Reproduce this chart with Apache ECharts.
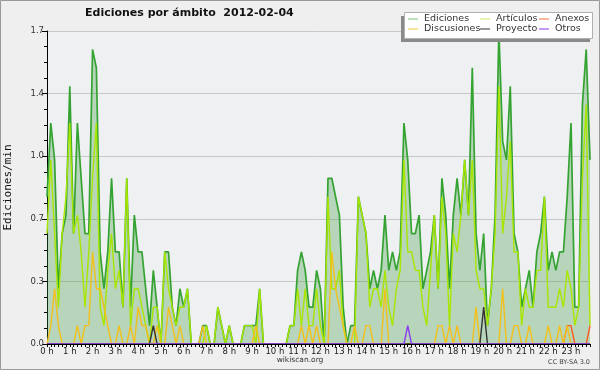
<!DOCTYPE html>
<html><head><meta charset="utf-8">
<script src="https://cdn.jsdelivr.net/npm/echarts@6/dist/echarts.min.js"></script>
<style>html,body{margin:0;padding:0;background:#efefef}#c{width:600px;height:370px}</style>
</head><body><div id="c"></div>
<script>
// 10-minute bins, values in edits per minute
const hourLabels = ['0 h','1 h','2 h','3 h','4 h','5 h','6 h','7 h','8 h','9 h','10 h','11 h','12 h','13 h','14 h','15 h','16 h','17 h','18 h','19 h','20 h','21 h','22 h','23 h'];
const seriesNames = ['Ediciones','Artículos','Anexos','Discusiones','Proyecto','Otros'];
const ediciones = [
0.8,1.2,1.0,0.3,0.6,0.7,1.4,0.6,1.2,0.9,
0.6,0.6,1.6,1.5,0.5,0.3,0.5,0.9,0.5,0.5,
0.2,0.9,0.2,0.7,0.5,0.5,0.3,0.1,0.4,0.2,
0,0.5,0.5,0.2,0.1,0.3,0.2,0.3,0,0,
0,0.1,0.1,0,0,0.2,0.1,0,0.1,0,
0,0,0.1,0.1,0.1,0.1,0.3,0,0,0,
0,0,0,0,0.1,0.1,0.4,0.5,0.4,0.2,
0.2,0.4,0.3,0,0.9,0.9,0.8,0.7,0.2,0,
0.1,0.1,0.8,0.7,0.6,0.3,0.4,0.3,0.4,0.7,
0.4,0.5,0.4,0.5,1.2,1.0,0.6,0.6,0.7,0.3,
0.4,0.5,0.7,0.3,0.9,0.7,0.3,0.7,0.9,0.7,
1.0,0.7,1.5,0.6,0.4,0.6,0.1,0.3,0.7,1.7,
1.1,1.0,1.4,0.6,0.5,0.2,0.3,0.4,0.2,0.5,
0.6,0.8,0.4,0.5,0.4,0.5,0.5,0.8,1.2,0.2,
0.2,1.3,1.6,1.0];
const articulos = [
0.6,1.0,0.6,0.2,0.6,0.8,1.2,0.6,0.7,0.5,
0.2,0.5,0.9,1.2,0.2,0.1,0.4,0.6,0.3,0.4,
0.2,0.9,0.1,0.3,0.3,0.2,0.1,0,0.2,0.2,
0,0.5,0.3,0.2,0.1,0.2,0.2,0.3,0,0,
0,0,0.1,0,0,0.2,0.1,0,0.1,0,
0,0,0.1,0.1,0.1,0,0.3,0,0,0,
0,0,0,0,0.1,0.1,0.3,0.1,0.3,0.1,
0.1,0.3,0.1,0,0.8,0.3,0.3,0.4,0.1,0,
0,0,0.8,0.7,0.6,0.2,0.3,0.3,0.2,0.4,
0.2,0.1,0.3,0.4,1.0,0.5,0.5,0.4,0.4,0.2,
0.1,0.4,0.7,0.3,0.8,0.6,0.1,0.6,0.5,0.7,
1.0,0.7,1.0,0.4,0.3,0.3,0.1,0.3,0.6,1.4,
0.6,0.8,1.1,0.5,0.5,0.1,0.3,0.2,0.2,0.4,
0.4,0.8,0.2,0.2,0.2,0.3,0.2,0.4,0.3,0.1,
0.2,0.9,1.3,0.1];
const anexos = [
0,0,0,0,0,0,0,0,0,0, 0,0,0,0,0,0,0,0,0,0, 0,0,0,0,0,0,0,0,0,0,
0,0,0,0,0,0,0,0,0,0, 0,0,0,0,0,0,0,0,0,0, 0,0,0,0,0,0,0,0,0,0,
0,0,0,0,0,0,0,0,0,0, 0,0,0,0,0,0,0,0,0,0, 0,0,0,0,0,0,0,0,0,0,
0,0,0,0,0,0,0,0,0,0, 0,0,0,0,0,0,0,0,0,0, 0,0,0,0,0,0,0,0,0,0,
0,0,0,0,0,0,0,0,0,0, 0,0,0,0,0,0,0,0.1,0.1,0, 0,0,0,0.1];
const discusiones = [
0,0.1,0.3,0.1,0,0,0,0,0.1,0,
0.1,0.1,0.5,0.3,0.3,0.2,0.1,0,0,0.1,
0,0,0.1,0,0.2,0.1,0.1,0,0,0.1,
0,0,0.2,0.1,0,0.1,0,0,0,0,
0,0.1,0,0,0,0,0,0,0,0,
0,0,0,0,0,0.1,0,0,0,0,
0,0,0,0,0,0,0,0.1,0,0.1,
0,0.1,0,0,0,0.5,0.3,0.2,0.1,0,
0,0.1,0,0,0.1,0.1,0,0,0,0.3,
0,0,0,0,0,0,0,0,0,0,
0,0,0,0.1,0.1,0,0.1,0,0.1,0,
0,0,0,0.2,0,0,0,0,0,0,
0.3,0,0,0.1,0.1,0,0,0.1,0,0,
0,0,0.1,0,0,0.1,0,0.1,0,0,
0,0,0,0];
const proyecto = [
0,0,0,0,0,0,0,0,0,0, 0,0,0,0,0,0,0,0,0,0, 0,0,0,0,0,0,0,0,0.1,0,
0,0,0,0,0,0,0,0,0,0, 0,0,0,0,0,0,0,0,0,0, 0,0,0,0,0,0,0,0,0,0,
0,0,0,0,0,0,0,0,0,0, 0,0,0,0,0,0,0,0,0,0, 0,0,0,0,0,0,0,0,0,0,
0,0,0,0,0,0,0,0,0,0, 0,0,0,0,0,0,0,0,0,0, 0,0,0,0,0,0.2,0,0,0,0,
0,0,0,0,0,0,0,0,0,0, 0,0,0,0,0,0,0,0,0,0, 0,0,0,0];
const otros = [
0,0,0,0,0,0,0,0,0,0, 0,0,0,0,0,0,0,0,0,0, 0,0,0,0,0,0,0,0,0,0,
0,0,0,0,0,0,0,0,0,0, 0,0,0,0,0,0,0,0,0,0, 0,0,0,0,0,0,0,0,0,0,
0,0,0,0,0,0,0,0,0,0, 0,0,0,0,0,0,0,0,0,0, 0,0,0,0,0,0,0,0,0,0,
0,0,0,0,0,0.1,0,0,0,0, 0,0,0,0,0,0,0,0,0,0, 0,0,0,0,0,0,0,0,0,0,
0,0,0,0,0,0,0,0,0,0, 0,0,0,0,0,0,0,0,0,0, 0,0,0,0];
const yTicks = [0, 0.34, 0.68, 1.02, 1.36, 1.7];

const categories = [];
for (let h = 0; h < 24; h++) for (let m = 0; m < 60; m += 10) categories.push(h + ':' + (m < 10 ? '0' : '') + m);

const lineColors = ['#35a332','#a8e600','#ff5a1f','#f2c01a','#333333','#8a3cf0'];
const legendColors = ['#8fd38f','#d2f07a','#f38a5c','#f7d35c','#555555','#9b55f0'];
const values = [ediciones, articulos, anexos, discusiones, proyecto, otros];
const FONT = 'DejaVu Sans';

const series = seriesNames.map((n, k) => {
  const s = {
    name: n, type: 'line', data: values[k], symbol: 'none', animation: false,
    lineStyle: {color: lineColors[k], width: k === 0 ? 1.7 : 1.4},
    itemStyle: {color: lineColors[k]}, z: 2 + k
  };
  if (k === 0) s.areaStyle = {color: 'rgba(50,150,50,0.42)'};
  return s;
});

function legendCol(names, left) {
  return {
    data: names.map(n => ({name: n, itemStyle: {color: legendColors[seriesNames.indexOf(n)]}})),
    orient: 'vertical', left: left, top: 14, padding: 0, itemGap: 0,
    icon: 'rect', itemWidth: 10, itemHeight: 1.2, selectedMode: false, z: 6,
    textStyle: {fontFamily: FONT, fontSize: 9.5, color: '#333', lineHeight: 10, padding: [0,0,0,1]}
  };
}

const chart = echarts.init(document.getElementById('c'), null, {renderer: 'canvas'});
chart.setOption({
  backgroundColor: '#efefef',
  animation: false,
  title: {
    text: 'Ediciones por ámbito  2012-02-04', left: 85, top: 8, padding: 0,
    textStyle: {fontFamily: FONT, fontWeight: 'bold', fontSize: 11, color: '#111'}
  },
  legend: [
    legendCol(['Ediciones','Discusiones'], 408),
    legendCol(['Artículos','Proyecto'], 480),
    legendCol(['Anexos','Otros'], 539)
  ],
  graphic: [
    {type: 'rect', shape: {x: 0.5, y: 0.5, width: 599, height: 369}, style: {fill: 'none', stroke: '#9a9a9a', lineWidth: 1}, z: 0, silent: true},
    {type: 'rect', shape: {x: 401, y: 16, width: 189, height: 26}, style: {fill: '#8a8a8a'}, z: 4, silent: true},
    {type: 'rect', shape: {x: 404.5, y: 12.5, width: 188, height: 26}, style: {fill: '#ffffff', stroke: '#b0b0b0', lineWidth: 1}, z: 5, silent: true},
    {type: 'text', left: 'center', top: 356, style: {text: 'wikiscan.org', font: '7.5px "DejaVu Sans"', fill: '#333'}, silent: true},
    {type: 'text', right: 10, top: 359, style: {text: 'CC BY-SA 3.0', font: '6.5px "DejaVu Sans"', fill: '#444'}, silent: true}
  ],
  grid: {left: 47, right: 10, top: 31, bottom: 26, show: true, backgroundColor: '#eef0f2', borderWidth: 0, containLabel: false, outerBoundsMode: 'none'},
  xAxis: {
    type: 'category', data: categories, boundaryGap: false, z: 10,
    axisLine: {lineStyle: {color: '#000', width: 1}},
    axisTick: {interval: 0, length: 3, lineStyle: {color: '#000'}},
    axisLabel: {
      interval: (i) => i % 6 === 0,
      formatter: (v, i) => hourLabels[Math.floor(i / 6)],
      fontFamily: FONT, fontSize: 8.5, color: '#222', margin: 3,
      alignMinLabel: 'center'
    },
    splitLine: {show: false}
  },
  yAxis: {
    type: 'value', min: yTicks[0], max: yTicks[yTicks.length - 1], interval: yTicks[1],
    name: 'Ediciones/min', nameLocation: 'middle', nameGap: 33,
    nameTextStyle: {fontFamily: 'DejaVu Sans Mono', fontSize: 11, color: '#111'},
    axisLine: {show: true, lineStyle: {color: '#000', width: 1}},
    axisTick: {show: true, length: 5, lineStyle: {color: '#000'}},
    minorTick: {show: true, splitNumber: 4, length: 3, lineStyle: {color: '#000'}},
    axisLabel: {formatter: v => v.toFixed(1), fontFamily: FONT, fontSize: 8.5, color: '#333', margin: 3},
    splitLine: {lineStyle: {color: '#c8c8c8', width: 1}}
  },
  series: series
});
</script></body></html>
